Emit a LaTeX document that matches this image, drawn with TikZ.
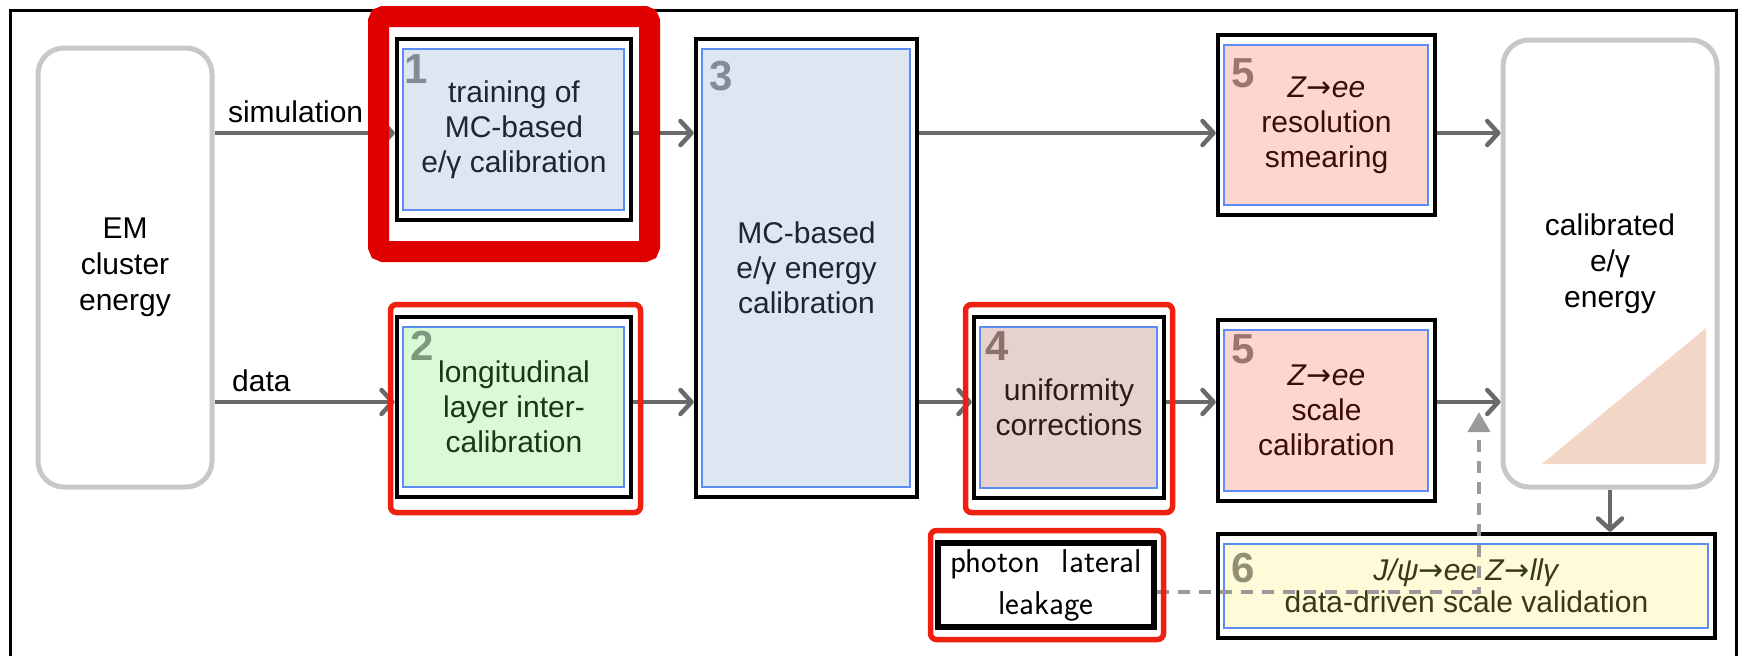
\documentclass[tikz,border=0pt]{standalone}
\usepackage{fontspec}
\setmainfont{Liberation Sans}
\newfontfamily\arrowfont{DejaVu Sans}
\usetikzlibrary{positioning,calc,arrows.meta}

\definecolor{fillblue}{HTML}{DEE6F1}
\definecolor{fillgreen}{HTML}{DAFAD6}
\definecolor{fillbrown}{HTML}{E7D1CC}
\definecolor{fillpink}{HTML}{FDD6CF}
\definecolor{fillyellow}{HTML}{FFFBD8}
\definecolor{inkblue}{HTML}{1C2633}
\definecolor{inkgreen}{HTML}{173817}
\definecolor{inkbrown}{HTML}{2A1A18}
\definecolor{inkred}{HTML}{3A0C0C}
\definecolor{inkolive}{HTML}{38381A}
\definecolor{numblue}{HTML}{848B95}
\definecolor{numgreen}{HTML}{7E9A7E}
\definecolor{numbrown}{HTML}{8C716D}
\definecolor{numred}{HTML}{9B7571}
\definecolor{numolive}{HTML}{909074}
\definecolor{innerblue}{HTML}{5B8DF5}
\definecolor{endgray}{HTML}{C8C8C8}
\definecolor{flowgray}{HTML}{6A6A6A}
\definecolor{leakgray}{HTML}{9A9A9A}
\definecolor{markred}{HTML}{E00000}
\definecolor{handred}{HTML}{EE2010}
\definecolor{wedge}{HTML}{F4D6C6}

\newcommand{\yields}{{\arrowfont →}}

\begin{document}
\begin{tikzpicture}[x=1pt,y=-1pt,
    every node/.style={inner sep=0pt, align=center},
    stage/.style 2 args={draw=black, line width=4.5pt, fill=white, text=#2,
      font=\fontsize{30}{35}\selectfont,
      path picture={\draw[innerblue, line width=1.5pt, fill=#1]
        ([shift={(6pt,-10pt)}]path picture bounding box.north west) rectangle
        ([shift={(-7pt,10pt)}]path picture bounding box.south east);}},
    endpoint/.style={draw=endgray, line width=5pt, rounded corners=26pt, fill=white,
      font=\fontsize{30}{36}\selectfont},
    stagenum/.style={anchor=base west, text=#1, font=\fontsize{42}{42}\selectfont\bfseries},
    flow/.style={draw=flowgray, line width=4.5pt, -{Straight Barb[length=11pt,width=24pt,round]}},
    leak/.style={draw=leakgray, line width=4pt, dash pattern=on 12pt off 9pt,
      -{Triangle[length=20pt,width=22pt]}},
    redbold/.style={draw=markred, line width=21pt, rounded corners=5pt},
    redhand/.style={draw=handred, line width=5.5pt, rounded corners=6pt}
  ]
  \useasboundingbox (0,0) rectangle (1739,656);
  % Frame
  \draw[line width=3pt] (10,656) -- (10,10) -- (1736,10) -- (1736,656);
  % Rows of arrows
  \coordinate (rowA) at (0,133);
  \coordinate (rowB) at (0,402);
  % End points
  \node[endpoint, minimum width=174pt, minimum height=439pt] (em) at (125,267.5)
    {EM\\cluster\\energy};
  \node[endpoint, minimum width=214pt, minimum height=447pt] (out) at (1610,263.5)
    {calibrated\\e/γ\\energy};
  \fill[wedge] (1542,464) -- (1706,464) -- (1706,328) -- cycle;
  % Stages
  \node[stage={fillblue}{inkblue}, minimum width=234pt, minimum height=181pt]
    (train) at (514,129.5) {training of\\MC-based\\e/γ calibration};
  \node[stage={fillgreen}{inkgreen}, minimum width=234pt, minimum height=180pt]
    (layer) at (514,407) {longitudinal\\layer inter-\\calibration};
  \node[stage={fillblue}{inkblue}, minimum width=221pt, minimum height=458pt]
    (mccalib) at (806.5,268) {MC-based\\e/γ energy\\calibration};
  \node[stage={fillbrown}{inkbrown}, minimum width=190pt, minimum height=181pt]
    (unif) at (1069,407.5) {uniformity\\corrections};
  \node[stage={fillpink}{inkred}, minimum width=217pt, minimum height=180pt]
    (smear) at (1326.5,125) {\textit{Z}\yields\textit{ee}\\resolution\\smearing};
  \node[stage={fillpink}{inkred}, minimum width=217pt, minimum height=181pt]
    (scale) at (1326.5,410.5) {\textit{Z}\yields\textit{ee}\\scale\\calibration};
  \node[stage={fillyellow}{inkolive}, minimum width=497pt, minimum height=104pt,
    font=\fontsize{30}{32}\selectfont]
    (valid) at (1466.5,586) {\textit{J/ψ}\yields\textit{ee} \textit{Z}\yields\textit{llγ}\\data-driven scale validation};
  \node[draw=black, line width=4pt, fill=white, minimum width=218pt, minimum height=86pt,
    font=\sffamily\fontsize{33}{42}\selectfont,
    path picture={\draw[line width=1.2pt]
      ([shift={(3pt,-3pt)}]path picture bounding box.north west) rectangle
      ([shift={(-3pt,3pt)}]path picture bounding box.south east);}]
    (leakage) at (1046,585) {photon\hspace{0.66em}lateral\\leakage};
  % Stage numbers
  \node[stagenum=numblue] at (404,83) {1};
  \node[stagenum=numgreen] at (410,360) {2};
  \node[stagenum=numblue] at (709,90) {3};
  \node[stagenum=numbrown] at (985,360) {4};
  \node[stagenum=numred] at (1231,87) {5};
  \node[stagenum=numred] at (1231,363) {5};
  \node[stagenum=numolive] at (1231,582) {6};
  % Arrows
  \draw[flow] (em.east |- rowA) -- node[above=8pt, pos=0.45, font=\fontsize{30}{35}\selectfont] {simulation} (train.west |- rowA);
  \draw[flow] (em.east |- rowB) -- node[above=8pt, pos=0.26, font=\fontsize{30}{35}\selectfont] {data} (layer.west |- rowB);
  \draw[flow] (train.east |- rowA) -- (mccalib.west |- rowA);
  \draw[flow] (layer.east |- rowB) -- (mccalib.west |- rowB);
  \draw[flow] (mccalib.east |- rowA) -- (smear.west |- rowA);
  \draw[flow] (mccalib.east |- rowB) -- (unif.west |- rowB);
  \draw[flow] (unif.east |- rowB) -- (scale.west |- rowB);
  \draw[flow] (smear.east |- rowA) -- (out.west |- rowA);
  \draw[flow] (scale.east |- rowB) -- (out.west |- rowB);
  \draw[flow] (out.south) -- (out.south |- valid.north);
  % Leakage input
  \coordinate (bend) at (1479,592);
  \coordinate (tip) at (1479,412);
  \draw[leak] (leakage.east |- bend) -- (bend) -- (tip);
  % Highlights
  \draw[redbold] (378.5,16.5) rectangle (649.5,251.5);
  \draw[redhand] (390.5,304.5) rectangle (640.5,512.5);
  \draw[redhand] (965.5,304.5) rectangle (1172.5,512.5);
  \draw[redhand] (930.5,530.5) rectangle (1163.5,639.5);
\end{tikzpicture}
\end{document}
